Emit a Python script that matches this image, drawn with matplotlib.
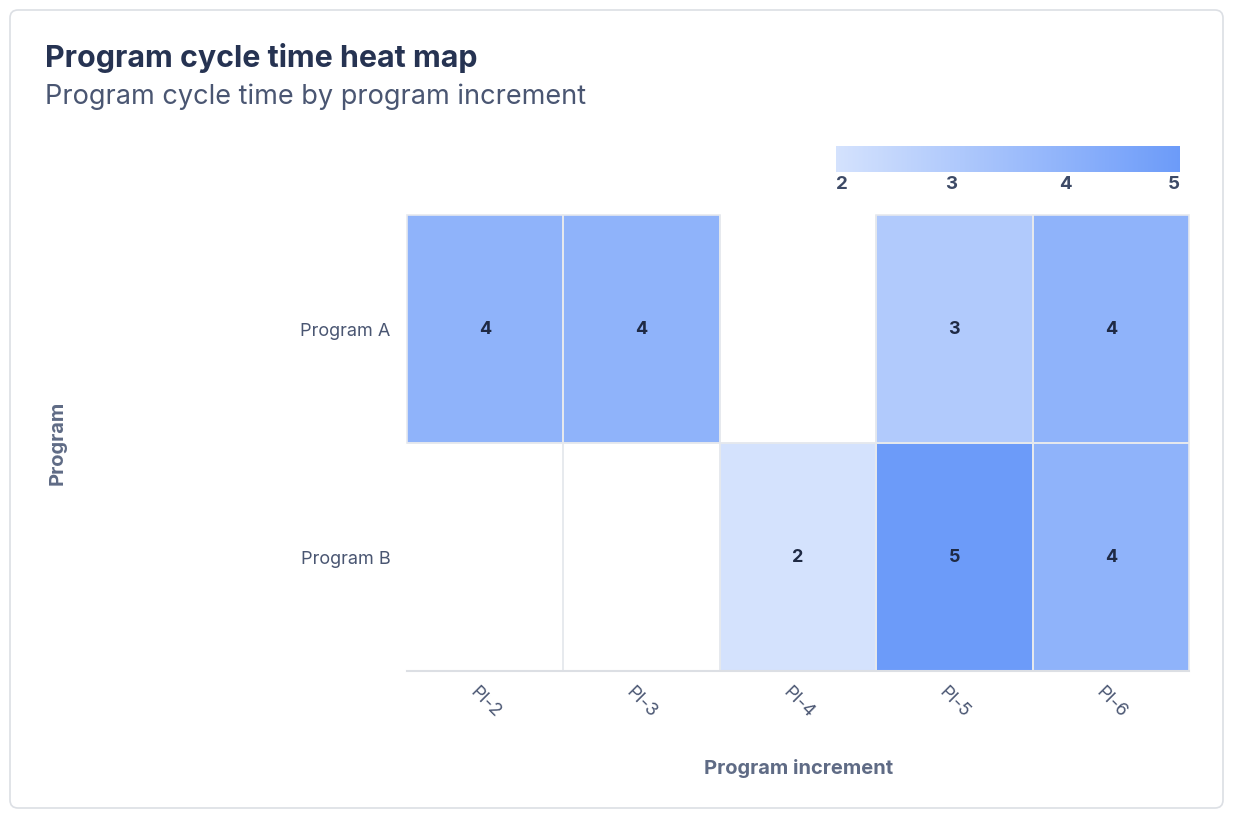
import matplotlib
matplotlib.use("Agg")
import matplotlib.pyplot as plt
import numpy as np
from matplotlib.colors import LinearSegmentedColormap
from matplotlib.patches import FancyBboxPatch, Rectangle

plt.rcParams["font.family"] = ["Inter", "DejaVu Sans"]

programs = ["Program A", "Program B"]
increments = ["PI-2", "PI-3", "PI-4", "PI-5", "PI-6"]
cycle_time = [
    [4, 4, np.nan, 3, 4],
    [np.nan, np.nan, 2, 5, 4],
]
color_ticks = [2, 3, 4, 5]

W, H = 1234, 824
fig = plt.figure(figsize=(W / 100, H / 100), dpi=100)

# card background
bg = fig.add_axes([0, 0, 1, 1])
bg.set_xlim(0, W)
bg.set_ylim(H, 0)
bg.axis("off")
bg.add_patch(FancyBboxPatch((10, 10), 1213, 798, boxstyle="round,pad=0,rounding_size=8",
                            facecolor="white", edgecolor="#dcdfe4", linewidth=1.2))
bg.text(45, 58, "Program cycle time heat map", fontsize=21.9, fontweight="bold",
        color="#263352", va="center", ha="left")
bg.text(45, 97, "Program cycle time by program increment", fontsize=19.5,
        color="#4a5672", va="center", ha="left")

cmap = LinearSegmentedColormap.from_list("pct", ["#d4e2fd", "#6c9bf9"])
data = np.ma.masked_invalid(np.array(cycle_time, dtype=float))

ax = fig.add_axes([407 / W, 1 - 671 / H, 782 / W, 456 / H])
mesh = ax.pcolormesh(np.arange(len(increments) + 1), np.arange(len(programs) + 1), data,
                     cmap=cmap, vmin=2, vmax=5, linewidth=0)
ax.set_xlim(0, len(increments))
ax.set_ylim(len(programs), 0)

# grid lines between all cells (visible on empty cells too)
for i in range(1, len(increments)):
    ax.axvline(i, color="#e3e6eb", linewidth=1.2, zorder=3)
for j in range(1, len(programs)):
    ax.axhline(j, color="#e3e6eb", linewidth=1.2, zorder=3)

for r, row in enumerate(cycle_time):
    for c, val in enumerate(row):
        if not np.isnan(val):
            ax.add_patch(Rectangle((c, r), 1, 1, fill=False, edgecolor="#e6e9ee",
                                   linewidth=1.2, zorder=3, clip_on=False))
            ax.text(c + 0.5, r + 0.5, f"{val:g}", ha="center", va="center",
                    fontsize=13, fontweight="bold", color="#1f2a44", zorder=4)

for side in ["top", "left", "right"]:
    ax.spines[side].set_visible(False)
ax.spines["bottom"].set_color("#dcdfe4")
ax.spines["bottom"].set_linewidth(1.5)
ax.spines["bottom"].set_zorder(5)

ax.set_xticks(np.arange(len(increments)) + 0.5)
ax.set_xticklabels(increments, rotation=-45, ha="center", va="top")
ax.set_yticks(np.arange(len(programs)) + 0.5)
ax.set_yticklabels(programs)
ax.tick_params(axis="both", length=0, labelsize=13, labelcolor="#4a5672")
ax.tick_params(axis="x", pad=9)
ax.tick_params(axis="y", pad=12)

ax.set_xlabel("Program increment", fontsize=14.5, fontweight="bold", color="#5f6b85")
ax.xaxis.set_label_coords((799 - 407) / 782, -(759 - 671) / 456)
ax.set_ylabel("Program", fontsize=14.5, fontweight="bold", color="#5f6b85")
ax.yaxis.set_label_coords((67 - 407) / 782, 0.5)

# colour scale
cax = fig.add_axes([836 / W, 1 - 172 / H, 344 / W, 26 / H])
cb = fig.colorbar(mesh, cax=cax, orientation="horizontal")
cb.outline.set_visible(False)
cb.set_ticks(color_ticks)
cax.tick_params(length=0, pad=3, labelsize=13.5, labelcolor="#3d4a66")
for lbl in cax.get_xticklabels():
    lbl.set_fontweight("bold")
labels = cax.get_xticklabels()
labels[0].set_ha("left")
labels[-1].set_ha("right")

fig.savefig("out.png", dpi=100)
